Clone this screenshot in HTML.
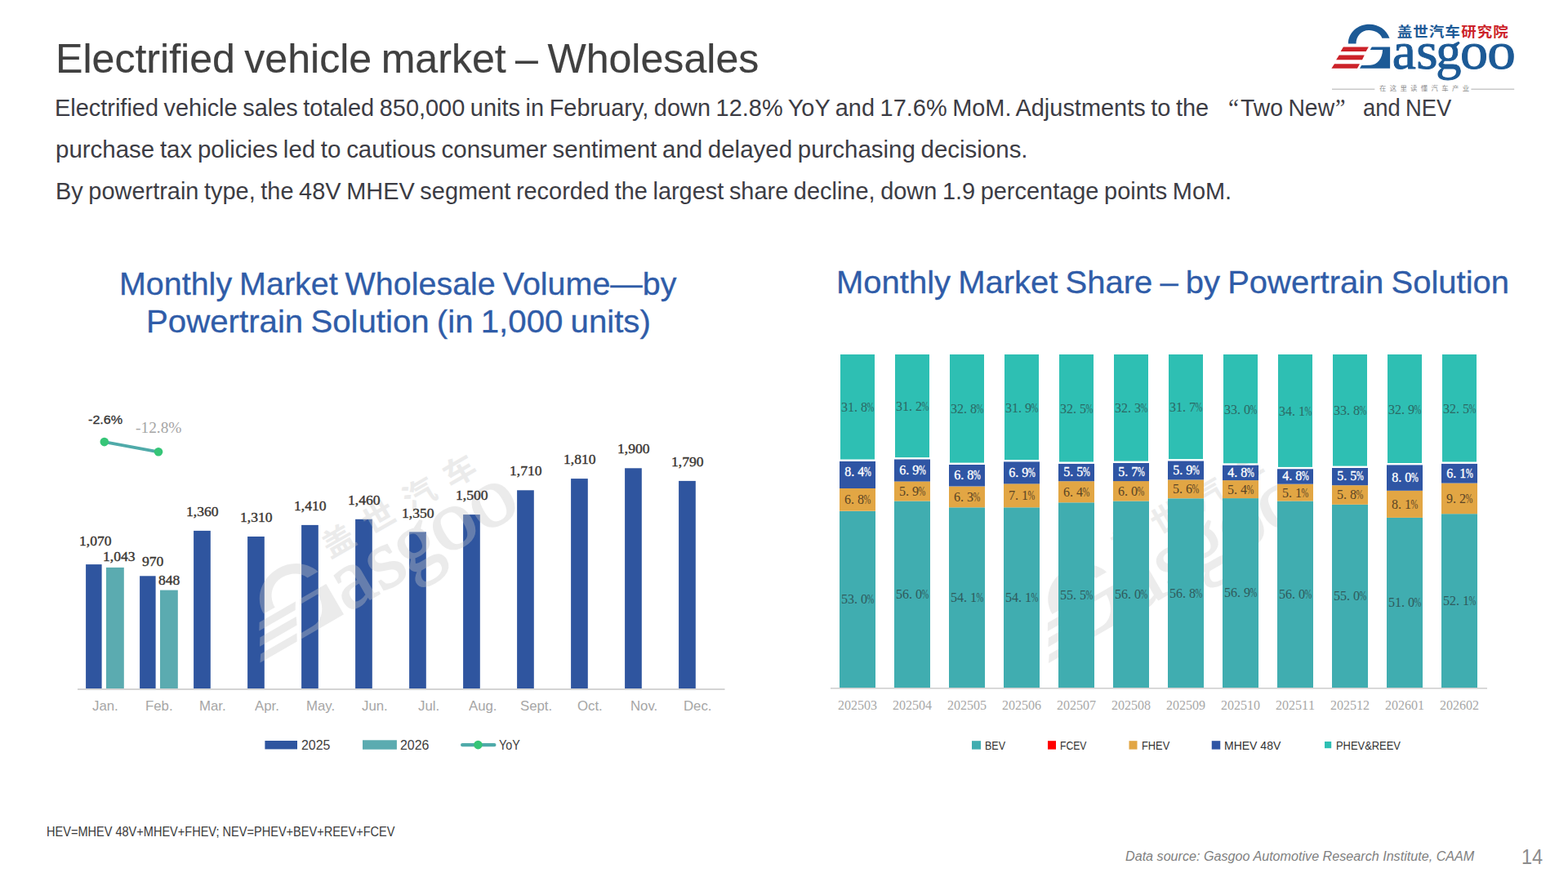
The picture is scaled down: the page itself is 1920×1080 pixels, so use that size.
<!DOCTYPE html>
<html><head><meta charset="utf-8"><title>Electrified vehicle market – Wholesales</title>
<style>
html,body{margin:0;padding:0;background:#fff}
body{width:1920px;height:1080px;position:relative;overflow:hidden;font-family:"Liberation Sans",sans-serif}
.t{position:absolute;white-space:nowrap;transform-origin:0 0;line-height:1}
svg{position:absolute;left:0;top:0}
</style></head><body>
<svg width="1920" height="1080" viewBox="0 0 1920 1080">
<defs>
<g id="lgG"><path d="M1650.9,53.6C1650.9,40 1662.3,29.8 1676.8,29.8C1688.2,29.8 1697.8,36.4 1701.5,46.7L1692.4,46.7C1690,40.6 1683.4,37 1676.2,37C1667.1,37 1660.5,44.3 1660.5,53.6Z"/><path d="M1679.8,57.5L1702.1,57.5L1702.1,83.7L1665,83.7L1667.1,79.9L1678,79.7C1686.4,79.7 1693,71.4 1693,61.1L1677.7,61.1Z"/><g font-family="Liberation Serif,serif" font-size="63" stroke="currentColor" stroke-width="1"><text transform="translate(1704.75,83.7) scale(1.0393,1)">a</text><text transform="translate(1734.19,83.7) scale(1.0739,1)">s</text><text transform="translate(1758.15,83.7) scale(0.9914,1)">g</text><text transform="translate(1787.97,83.7) scale(1.0812,1)">o</text><text transform="translate(1821.24,83.7) scale(1.0993,1)">o</text></g></g>
<g id="lgA"><use href="#lgG"/><text transform="translate(1710.86,45.26) scale(1,0.909)" x="0 19.49 38.99 58.48" y="0" font-family="'Liberation Sans','Noto Sans CJK SC',sans-serif" font-size="18.6" font-weight="bold">盖世汽车</text></g>
<g id="lgW"><use href="#lgG"/><use href="#lgB"/><text transform="translate(1713.92,42.74) scale(1,0.952)" x="0 34.6 69.2 103.8" y="0" font-family="'Liberation Sans','Noto Sans CJK SC',sans-serif" font-size="24.15" font-weight="bold">盖世汽车</text></g>
<path id="lgB" d="M1644.9,57.5H1675.9L1672.6,62.9H1641.6ZM1639.75,67.4H1670.75L1668,73.2H1636.1ZM1634,78.3H1665L1662,83.7H1630.4Z"/>
</defs>
<g id="logo"><g color="#1c5a96" fill="currentColor"><use href="#lgA"/></g><use href="#lgB" fill="#cc2229"/><g fill="#cc2229"><text transform="translate(1789.30,45.15) scale(1,0.909)" x="0 19.43 38.85" y="0" font-family="'Liberation Sans','Noto Sans CJK SC',sans-serif" font-size="18.47" font-weight="bold">研究院</text></g>
<g fill="#8c8c8c"><text transform="translate(1688.98,110.97)" x="0 12.72 25.44 38.15 50.87 63.59 76.30 89.02 101.74" y="0" font-family="'Liberation Sans','Noto Sans CJK SC',sans-serif" font-size="8.36">在这里读懂汽车产业</text></g>
<path d="M1631,109.3H1683.3M1801.4,109.3H1854.2" stroke="#c9c9c9" stroke-width="1.4"/></g>

<rect x="95" y="843.0" width="792.5" height="2" fill="#d4d4d4"/>
<rect x="105.1" y="691.1" width="19.5" height="151.9" fill="#2f559f"/>
<rect x="171.1" y="705.3" width="19.5" height="137.7" fill="#2f559f"/>
<rect x="237.1" y="649.9" width="20.7" height="193.1" fill="#2f559f"/>
<rect x="303.1" y="657.0" width="20.7" height="186.0" fill="#2f559f"/>
<rect x="369.1" y="642.9" width="20.7" height="200.1" fill="#2f559f"/>
<rect x="435.1" y="635.8" width="20.7" height="207.2" fill="#2f559f"/>
<rect x="501.1" y="651.4" width="20.7" height="191.6" fill="#2f559f"/>
<rect x="567.1" y="630.1" width="20.7" height="212.9" fill="#2f559f"/>
<rect x="633.1" y="600.3" width="20.7" height="242.7" fill="#2f559f"/>
<rect x="699.1" y="586.1" width="20.7" height="256.9" fill="#2f559f"/>
<rect x="765.1" y="573.3" width="20.7" height="269.7" fill="#2f559f"/>
<rect x="831.1" y="588.9" width="20.7" height="254.1" fill="#2f559f"/>
<rect x="130.0" y="694.9" width="21.8" height="148.1" fill="#5babb0"/>
<rect x="196.0" y="722.6" width="21.8" height="120.4" fill="#5babb0"/>
<line x1="127.8" y1="541.1" x2="194" y2="553.3" stroke="#4faaa9" stroke-width="3.9"/>
<circle cx="127.8" cy="541.1" r="5.3" fill="#36c577"/><circle cx="194" cy="553.3" r="5.3" fill="#36c577"/>
<g transform="translate(318.5,811.5) rotate(-30) scale(1.65) translate(-1630.4,-83.7)" fill="#c8c8c8" color="#c8c8c8" opacity=".36"><use href="#lgW"/></g>
<rect x="324.4" y="907" width="39.6" height="10.4" fill="#2f559f"/>
<rect x="444" y="906.3" width="41.9" height="11.4" fill="#5babb0"/>
<line x1="566.2" y1="912.1" x2="605.3" y2="912.1" stroke="#4faaa9" stroke-width="4.4" stroke-linecap="round"/><circle cx="585.4" cy="912.1" r="5.3" fill="#36c577"/>
<g transform="translate(1284,812) rotate(-30) scale(1.65) translate(-1630.4,-83.7)" fill="#ececec" color="#ececec"><use href="#lgW"/></g>
<rect x="1017" y="842.0" width="804" height="1.6" fill="#d0d0d0"/>
<rect x="1028.0" y="625.8" width="44" height="216.2" fill="#40adb0"/>
<rect x="1028.0" y="598.0" width="44" height="27.7" fill="#e2a644"/>
<rect x="1028.0" y="564.9" width="44" height="33.1" fill="#2f55a4"/>
<rect x="1029.0" y="434.0" width="42" height="128.5" fill="#2ebfb3"/>
<rect x="1095.0" y="613.5" width="44" height="228.5" fill="#40adb0"/>
<rect x="1095.0" y="589.4" width="44" height="24.1" fill="#e2a644"/>
<rect x="1095.0" y="562.5" width="44" height="27.0" fill="#2f55a4"/>
<rect x="1096.0" y="434.0" width="42" height="126.1" fill="#2ebfb3"/>
<rect x="1162.0" y="621.3" width="44" height="220.7" fill="#40adb0"/>
<rect x="1162.0" y="595.6" width="44" height="25.7" fill="#e2a644"/>
<rect x="1162.0" y="569.0" width="44" height="26.5" fill="#2f55a4"/>
<rect x="1163.0" y="434.0" width="42" height="132.6" fill="#2ebfb3"/>
<rect x="1229.0" y="621.3" width="44" height="220.7" fill="#40adb0"/>
<rect x="1229.0" y="592.3" width="44" height="29.0" fill="#e2a644"/>
<rect x="1229.0" y="565.4" width="44" height="27.0" fill="#2f55a4"/>
<rect x="1230.0" y="434.0" width="42" height="129.0" fill="#2ebfb3"/>
<rect x="1296.0" y="615.3" width="44" height="226.7" fill="#40adb0"/>
<rect x="1296.0" y="589.2" width="44" height="26.1" fill="#e2a644"/>
<rect x="1296.0" y="567.9" width="44" height="21.3" fill="#2f55a4"/>
<rect x="1297.0" y="434.0" width="42" height="131.5" fill="#2ebfb3"/>
<rect x="1363.0" y="613.5" width="44" height="228.5" fill="#40adb0"/>
<rect x="1363.0" y="589.0" width="44" height="24.5" fill="#e2a644"/>
<rect x="1363.0" y="567.0" width="44" height="22.1" fill="#2f55a4"/>
<rect x="1364.0" y="434.0" width="42" height="130.6" fill="#2ebfb3"/>
<rect x="1430.0" y="610.3" width="44" height="231.7" fill="#40adb0"/>
<rect x="1430.0" y="587.4" width="44" height="22.8" fill="#e2a644"/>
<rect x="1430.0" y="564.5" width="44" height="22.9" fill="#2f55a4"/>
<rect x="1431.0" y="434.0" width="42" height="128.1" fill="#2ebfb3"/>
<rect x="1497.0" y="610.1" width="44" height="231.9" fill="#40adb0"/>
<rect x="1497.0" y="588.1" width="44" height="22.0" fill="#e2a644"/>
<rect x="1497.0" y="569.7" width="44" height="18.4" fill="#2f55a4"/>
<rect x="1498.0" y="434.0" width="42" height="133.3" fill="#2ebfb3"/>
<rect x="1564.0" y="613.5" width="44" height="228.5" fill="#40adb0"/>
<rect x="1564.0" y="592.7" width="44" height="20.8" fill="#e2a644"/>
<rect x="1564.0" y="574.3" width="44" height="18.4" fill="#2f55a4"/>
<rect x="1565.0" y="434.0" width="42" height="137.9" fill="#2ebfb3"/>
<rect x="1631.0" y="617.8" width="44" height="224.2" fill="#40adb0"/>
<rect x="1631.0" y="594.2" width="44" height="23.6" fill="#e2a644"/>
<rect x="1631.0" y="573.0" width="44" height="21.2" fill="#2f55a4"/>
<rect x="1632.0" y="434.0" width="42" height="136.6" fill="#2ebfb3"/>
<rect x="1698.0" y="633.9" width="44" height="208.1" fill="#40adb0"/>
<rect x="1698.0" y="600.9" width="44" height="33.0" fill="#e2a644"/>
<rect x="1698.0" y="569.4" width="44" height="31.4" fill="#2f55a4"/>
<rect x="1699.0" y="434.0" width="42" height="133.0" fill="#2ebfb3"/>
<rect x="1765.0" y="629.2" width="44" height="212.8" fill="#40adb0"/>
<rect x="1765.0" y="591.6" width="44" height="37.6" fill="#e2a644"/>
<rect x="1765.0" y="567.9" width="44" height="23.7" fill="#2f55a4"/>
<rect x="1766.0" y="434.0" width="42" height="131.5" fill="#2ebfb3"/>
<g font-family="Liberation Serif,serif">
<g fill="#2f5a5c" font-size="16.0"><text x="1034.0 1042.0 1048.0 1058.0" y="739.3" text-anchor="middle">53.0</text><text transform="translate(1066.0,739.3) scale(.66,1)" text-anchor="middle">%</text></g>
<g fill="#5a4424" font-size="16.0"><text x="1038.0 1044.0 1054.0" y="617.3" text-anchor="middle">6.8</text><text transform="translate(1062.0,617.3) scale(.66,1)" text-anchor="middle">%</text></g>
<g fill="#ffffff" font-size="16.0" stroke="#ffffff" stroke-width=".32"><text x="1038.3 1044.3 1054.3" y="582.8" text-anchor="middle">8.4</text><text transform="translate(1062.3,582.8) scale(.66,1)" text-anchor="middle">%</text></g>
<g fill="#2b6863" font-size="16.0"><text x="1034.0 1042.0 1048.0 1058.0" y="504.3" text-anchor="middle">31.8</text><text transform="translate(1066.0,504.3) scale(.66,1)" text-anchor="middle">%</text></g>
<g fill="#a8a8a8" font-size="16.0"><text x="1030.0 1038.0 1046.0 1054.0 1062.0 1070.0" y="868.8" text-anchor="middle">202503</text></g>
<g fill="#2f5a5c" font-size="16.0"><text x="1101.0 1109.0 1115.0 1125.0" y="733.2" text-anchor="middle">56.0</text><text transform="translate(1133.0,733.2) scale(.66,1)" text-anchor="middle">%</text></g>
<g fill="#5a4424" font-size="16.0"><text x="1105.0 1111.0 1121.0" y="606.9" text-anchor="middle">5.9</text><text transform="translate(1129.0,606.9) scale(.66,1)" text-anchor="middle">%</text></g>
<g fill="#ffffff" font-size="16.0" stroke="#ffffff" stroke-width=".32"><text x="1105.3 1111.3 1121.3" y="580.8" text-anchor="middle">6.9</text><text transform="translate(1129.3,580.8) scale(.66,1)" text-anchor="middle">%</text></g>
<g fill="#2b6863" font-size="16.0"><text x="1101.0 1109.0 1115.0 1125.0" y="503.1" text-anchor="middle">31.2</text><text transform="translate(1133.0,503.1) scale(.66,1)" text-anchor="middle">%</text></g>
<g fill="#a8a8a8" font-size="16.0"><text x="1097.0 1105.0 1113.0 1121.0 1129.0 1137.0" y="868.8" text-anchor="middle">202504</text></g>
<g fill="#2f5a5c" font-size="16.0"><text x="1168.0 1176.0 1182.0 1192.0" y="737.0" text-anchor="middle">54.1</text><text transform="translate(1200.0,737.0) scale(.66,1)" text-anchor="middle">%</text></g>
<g fill="#5a4424" font-size="16.0"><text x="1172.0 1178.0 1188.0" y="613.8" text-anchor="middle">6.3</text><text transform="translate(1196.0,613.8) scale(.66,1)" text-anchor="middle">%</text></g>
<g fill="#ffffff" font-size="16.0" stroke="#ffffff" stroke-width=".32"><text x="1172.3 1178.3 1188.3" y="587.1" text-anchor="middle">6.8</text><text transform="translate(1196.3,587.1) scale(.66,1)" text-anchor="middle">%</text></g>
<g fill="#2b6863" font-size="16.0"><text x="1168.0 1176.0 1182.0 1192.0" y="506.3" text-anchor="middle">32.8</text><text transform="translate(1200.0,506.3) scale(.66,1)" text-anchor="middle">%</text></g>
<g fill="#a8a8a8" font-size="16.0"><text x="1164.0 1172.0 1180.0 1188.0 1196.0 1204.0" y="868.8" text-anchor="middle">202505</text></g>
<g fill="#2f5a5c" font-size="16.0"><text x="1235.0 1243.0 1249.0 1259.0" y="737.0" text-anchor="middle">54.1</text><text transform="translate(1267.0,737.0) scale(.66,1)" text-anchor="middle">%</text></g>
<g fill="#5a4424" font-size="16.0"><text x="1239.0 1245.0 1255.0" y="612.2" text-anchor="middle">7.1</text><text transform="translate(1263.0,612.2) scale(.66,1)" text-anchor="middle">%</text></g>
<g fill="#ffffff" font-size="16.0" stroke="#ffffff" stroke-width=".32"><text x="1239.3 1245.3 1255.3" y="583.6" text-anchor="middle">6.9</text><text transform="translate(1263.3,583.6) scale(.66,1)" text-anchor="middle">%</text></g>
<g fill="#2b6863" font-size="16.0"><text x="1235.0 1243.0 1249.0 1259.0" y="504.5" text-anchor="middle">31.9</text><text transform="translate(1267.0,504.5) scale(.66,1)" text-anchor="middle">%</text></g>
<g fill="#a8a8a8" font-size="16.0"><text x="1231.0 1239.0 1247.0 1255.0 1263.0 1271.0" y="868.8" text-anchor="middle">202506</text></g>
<g fill="#2f5a5c" font-size="16.0"><text x="1302.0 1310.0 1316.0 1326.0" y="734.1" text-anchor="middle">55.5</text><text transform="translate(1334.0,734.1) scale(.66,1)" text-anchor="middle">%</text></g>
<g fill="#5a4424" font-size="16.0"><text x="1306.0 1312.0 1322.0" y="607.7" text-anchor="middle">6.4</text><text transform="translate(1330.0,607.7) scale(.66,1)" text-anchor="middle">%</text></g>
<g fill="#ffffff" font-size="16.0" stroke="#ffffff" stroke-width=".32"><text x="1306.3 1312.3 1322.3" y="583.4" text-anchor="middle">5.5</text><text transform="translate(1330.3,583.4) scale(.66,1)" text-anchor="middle">%</text></g>
<g fill="#2b6863" font-size="16.0"><text x="1302.0 1310.0 1316.0 1326.0" y="505.8" text-anchor="middle">32.5</text><text transform="translate(1334.0,505.8) scale(.66,1)" text-anchor="middle">%</text></g>
<g fill="#a8a8a8" font-size="16.0"><text x="1298.0 1306.0 1314.0 1322.0 1330.0 1338.0" y="868.8" text-anchor="middle">202507</text></g>
<g fill="#2f5a5c" font-size="16.0"><text x="1369.0 1377.0 1383.0 1393.0" y="733.2" text-anchor="middle">56.0</text><text transform="translate(1401.0,733.2) scale(.66,1)" text-anchor="middle">%</text></g>
<g fill="#5a4424" font-size="16.0"><text x="1373.0 1379.0 1389.0" y="606.7" text-anchor="middle">6.0</text><text transform="translate(1397.0,606.7) scale(.66,1)" text-anchor="middle">%</text></g>
<g fill="#ffffff" font-size="16.0" stroke="#ffffff" stroke-width=".32"><text x="1373.3 1379.3 1389.3" y="582.8" text-anchor="middle">5.7</text><text transform="translate(1397.3,582.8) scale(.66,1)" text-anchor="middle">%</text></g>
<g fill="#2b6863" font-size="16.0"><text x="1369.0 1377.0 1383.0 1393.0" y="505.3" text-anchor="middle">32.3</text><text transform="translate(1401.0,505.3) scale(.66,1)" text-anchor="middle">%</text></g>
<g fill="#a8a8a8" font-size="16.0"><text x="1365.0 1373.0 1381.0 1389.0 1397.0 1405.0" y="868.8" text-anchor="middle">202508</text></g>
<g fill="#2f5a5c" font-size="16.0"><text x="1436.0 1444.0 1450.0 1460.0" y="731.5" text-anchor="middle">56.8</text><text transform="translate(1468.0,731.5) scale(.66,1)" text-anchor="middle">%</text></g>
<g fill="#5a4424" font-size="16.0"><text x="1440.0 1446.0 1456.0" y="604.2" text-anchor="middle">5.6</text><text transform="translate(1464.0,604.2) scale(.66,1)" text-anchor="middle">%</text></g>
<g fill="#ffffff" font-size="16.0" stroke="#ffffff" stroke-width=".32"><text x="1440.3 1446.3 1456.3" y="580.8" text-anchor="middle">5.9</text><text transform="translate(1464.3,580.8) scale(.66,1)" text-anchor="middle">%</text></g>
<g fill="#2b6863" font-size="16.0"><text x="1436.0 1444.0 1450.0 1460.0" y="504.1" text-anchor="middle">31.7</text><text transform="translate(1468.0,504.1) scale(.66,1)" text-anchor="middle">%</text></g>
<g fill="#a8a8a8" font-size="16.0"><text x="1432.0 1440.0 1448.0 1456.0 1464.0 1472.0" y="868.8" text-anchor="middle">202509</text></g>
<g fill="#2f5a5c" font-size="16.0"><text x="1503.0 1511.0 1517.0 1527.0" y="731.4" text-anchor="middle">56.9</text><text transform="translate(1535.0,731.4) scale(.66,1)" text-anchor="middle">%</text></g>
<g fill="#5a4424" font-size="16.0"><text x="1507.0 1513.0 1523.0" y="604.5" text-anchor="middle">5.4</text><text transform="translate(1531.0,604.5) scale(.66,1)" text-anchor="middle">%</text></g>
<g fill="#ffffff" font-size="16.0" stroke="#ffffff" stroke-width=".32"><text x="1507.3 1513.3 1523.3" y="583.7" text-anchor="middle">4.8</text><text transform="translate(1531.3,583.7) scale(.66,1)" text-anchor="middle">%</text></g>
<g fill="#2b6863" font-size="16.0"><text x="1503.0 1511.0 1517.0 1527.0" y="506.7" text-anchor="middle">33.0</text><text transform="translate(1535.0,506.7) scale(.66,1)" text-anchor="middle">%</text></g>
<g fill="#a8a8a8" font-size="16.0"><text x="1499.0 1507.0 1515.0 1523.0 1531.0 1539.0" y="868.8" text-anchor="middle">202510</text></g>
<g fill="#2f5a5c" font-size="16.0"><text x="1570.0 1578.0 1584.0 1594.0" y="733.2" text-anchor="middle">56.0</text><text transform="translate(1602.0,733.2) scale(.66,1)" text-anchor="middle">%</text></g>
<g fill="#5a4424" font-size="16.0"><text x="1574.0 1580.0 1590.0" y="608.5" text-anchor="middle">5.1</text><text transform="translate(1598.0,608.5) scale(.66,1)" text-anchor="middle">%</text></g>
<g fill="#ffffff" font-size="16.0" stroke="#ffffff" stroke-width=".32"><text x="1574.3 1580.3 1590.3" y="588.3" text-anchor="middle">4.8</text><text transform="translate(1598.3,588.3) scale(.66,1)" text-anchor="middle">%</text></g>
<g fill="#2b6863" font-size="16.0"><text x="1570.0 1578.0 1584.0 1594.0" y="509.0" text-anchor="middle">34.1</text><text transform="translate(1602.0,509.0) scale(.66,1)" text-anchor="middle">%</text></g>
<g fill="#a8a8a8" font-size="16.0"><text x="1566.0 1574.0 1582.0 1590.0 1598.0 1606.0" y="868.8" text-anchor="middle">202511</text></g>
<g fill="#2f5a5c" font-size="16.0"><text x="1637.0 1645.0 1651.0 1661.0" y="735.3" text-anchor="middle">55.0</text><text transform="translate(1669.0,735.3) scale(.66,1)" text-anchor="middle">%</text></g>
<g fill="#5a4424" font-size="16.0"><text x="1641.0 1647.0 1657.0" y="611.4" text-anchor="middle">5.8</text><text transform="translate(1665.0,611.4) scale(.66,1)" text-anchor="middle">%</text></g>
<g fill="#ffffff" font-size="16.0" stroke="#ffffff" stroke-width=".32"><text x="1641.3 1647.3 1657.3" y="588.4" text-anchor="middle">5.5</text><text transform="translate(1665.3,588.4) scale(.66,1)" text-anchor="middle">%</text></g>
<g fill="#2b6863" font-size="16.0"><text x="1637.0 1645.0 1651.0 1661.0" y="508.3" text-anchor="middle">33.8</text><text transform="translate(1669.0,508.3) scale(.66,1)" text-anchor="middle">%</text></g>
<g fill="#a8a8a8" font-size="16.0"><text x="1633.0 1641.0 1649.0 1657.0 1665.0 1673.0" y="868.8" text-anchor="middle">202512</text></g>
<g fill="#2f5a5c" font-size="16.0"><text x="1704.0 1712.0 1718.0 1728.0" y="743.4" text-anchor="middle">51.0</text><text transform="translate(1736.0,743.4) scale(.66,1)" text-anchor="middle">%</text></g>
<g fill="#5a4424" font-size="16.0"><text x="1708.0 1714.0 1724.0" y="622.8" text-anchor="middle">8.1</text><text transform="translate(1732.0,622.8) scale(.66,1)" text-anchor="middle">%</text></g>
<g fill="#ffffff" font-size="16.0" stroke="#ffffff" stroke-width=".32"><text x="1708.3 1714.3 1724.3" y="590.0" text-anchor="middle">8.0</text><text transform="translate(1732.3,590.0) scale(.66,1)" text-anchor="middle">%</text></g>
<g fill="#2b6863" font-size="16.0"><text x="1704.0 1712.0 1718.0 1728.0" y="506.5" text-anchor="middle">32.9</text><text transform="translate(1736.0,506.5) scale(.66,1)" text-anchor="middle">%</text></g>
<g fill="#a8a8a8" font-size="16.0"><text x="1700.0 1708.0 1716.0 1724.0 1732.0 1740.0" y="868.8" text-anchor="middle">202601</text></g>
<g fill="#2f5a5c" font-size="16.0"><text x="1771.0 1779.0 1785.0 1795.0" y="741.0" text-anchor="middle">52.1</text><text transform="translate(1803.0,741.0) scale(.66,1)" text-anchor="middle">%</text></g>
<g fill="#5a4424" font-size="16.0"><text x="1775.0 1781.0 1791.0" y="615.8" text-anchor="middle">9.2</text><text transform="translate(1799.0,615.8) scale(.66,1)" text-anchor="middle">%</text></g>
<g fill="#ffffff" font-size="16.0" stroke="#ffffff" stroke-width=".32"><text x="1775.3 1781.3 1791.3" y="584.6" text-anchor="middle">6.1</text><text transform="translate(1799.3,584.6) scale(.66,1)" text-anchor="middle">%</text></g>
<g fill="#2b6863" font-size="16.0"><text x="1771.0 1779.0 1785.0 1795.0" y="505.8" text-anchor="middle">32.5</text><text transform="translate(1803.0,505.8) scale(.66,1)" text-anchor="middle">%</text></g>
<g fill="#a8a8a8" font-size="16.0"><text x="1767.0 1775.0 1783.0 1791.0 1799.0 1807.0" y="868.8" text-anchor="middle">202602</text></g>
</g>
<rect x="1190" y="907.2" width="11" height="10.4" fill="#40adb0"/>
<rect x="1283" y="907.2" width="10" height="10.4" fill="#ff0000"/>
<rect x="1382.5" y="907.2" width="10" height="10.4" fill="#e2a644"/>
<rect x="1483.75" y="907.2" width="10.5" height="10.4" fill="#2f55a4"/>
<rect x="1622" y="908" width="8.2" height="8.2" fill="#2ebfb3"/>
</svg>
<div class="t" style="left:68.09px;top:46.93px;font-size:50.87px;color:#404040;transform:scaleX(0.9848);word-spacing:-0.05em;-webkit-text-stroke:0.2px #404040;">Electrified vehicle market – Wholesales</div>
<div class="t" style="left:67.14px;top:117.45px;font-size:29.94px;color:#3c3c44;transform:scaleX(0.9661);word-spacing:-0.05em;">Electrified vehicle sales totaled 850,000 units in February, down 12.8% YoY and 17.6% MoM. Adjustments to the</div>
<div class="t" style="left:1504.13px;top:117.34px;font-size:31.00px;color:#3c3c44;transform:scaleX(0.9425);font-family:'Liberation Serif',serif;">“</div>
<div class="t" style="left:1518.56px;top:117.45px;font-size:29.94px;color:#3c3c44;transform:scaleX(0.9463);word-spacing:-0.05em;">Two New</div>
<div class="t" style="left:1634.62px;top:117.34px;font-size:31.00px;color:#3c3c44;transform:scaleX(0.9032);font-family:'Liberation Serif',serif;">”</div>
<div class="t" style="left:1669.14px;top:117.45px;font-size:29.94px;color:#3c3c44;transform:scaleX(0.9145);word-spacing:-0.05em;">and NEV</div>
<div class="t" style="left:67.96px;top:167.95px;font-size:29.94px;color:#3c3c44;transform:scaleX(0.9839);word-spacing:-0.05em;">purchase tax policies led to cautious consumer sentiment and delayed purchasing decisions.</div>
<div class="t" style="left:67.74px;top:218.65px;font-size:29.94px;color:#3c3c44;transform:scaleX(0.9663);word-spacing:-0.05em;">By powertrain type, the 48V MHEV segment recorded the largest share decline, down 1.9 percentage points MoM.</div>
<div class="t" style="left:145.72px;top:327.87px;font-size:39.24px;color:#2f5ca8;transform:scaleX(1.0053);word-spacing:-0.05em;-webkit-text-stroke:0.3px #2f5ca8;">Monthly Market Wholesale Volume—by</div>
<div class="t" style="left:178.76px;top:373.77px;font-size:39.24px;color:#2f5ca8;transform:scaleX(1.0250);word-spacing:-0.05em;-webkit-text-stroke:0.3px #2f5ca8;">Powertrain Solution (in 1,000 units)</div>
<div class="t" style="left:1023.87px;top:327.02px;font-size:38.95px;color:#2f5ca8;transform:scaleX(1.0274);word-spacing:-0.05em;-webkit-text-stroke:0.3px #2f5ca8;">Monthly Market Share – by Powertrain Solution</div>
<div class="t" style="left:57.36px;top:1009.84px;font-size:16.42px;color:#3a3a3a;transform:scaleX(0.8862);">HEV=MHEV 48V+MHEV+FHEV; NEV=PHEV+BEV+REEV+FCEV</div>
<div class="t" style="left:1377.75px;top:1040.59px;font-size:15.84px;color:#7f7f7f;transform:scaleX(1.0196);font-style:italic;">Data source: Gasgoo Automotive Research Institute, CAAM</div>
<div class="t" style="left:1862.53px;top:1036.47px;font-size:26.31px;color:#8c8c8c;transform:scaleX(0.8938);">14</div>
<div class="t" style="left:96.78px;top:655.25px;font-size:16.30px;color:#3a3632;transform:scaleX(1.0800);font-family:'Liberation Serif',serif;-webkit-text-stroke:.38px #3a3632;">1,070</div>
<div class="t" style="left:125.98px;top:674.15px;font-size:16.30px;color:#3a3632;transform:scaleX(1.0800);font-family:'Liberation Serif',serif;-webkit-text-stroke:.38px #3a3632;">1,043</div>
<div class="t" style="left:173.50px;top:679.65px;font-size:16.30px;color:#3a3632;transform:scaleX(1.0800);font-family:'Liberation Serif',serif;-webkit-text-stroke:.38px #3a3632;">970</div>
<div class="t" style="left:193.50px;top:703.05px;font-size:16.30px;color:#3a3632;transform:scaleX(1.0800);font-family:'Liberation Serif',serif;-webkit-text-stroke:.38px #3a3632;">848</div>
<div class="t" style="left:227.83px;top:619.10px;font-size:16.30px;color:#3a3632;transform:scaleX(1.0800);font-family:'Liberation Serif',serif;-webkit-text-stroke:.38px #3a3632;">1,360</div>
<div class="t" style="left:293.83px;top:626.20px;font-size:16.30px;color:#3a3632;transform:scaleX(1.0800);font-family:'Liberation Serif',serif;-webkit-text-stroke:.38px #3a3632;">1,310</div>
<div class="t" style="left:359.83px;top:612.00px;font-size:16.30px;color:#3a3632;transform:scaleX(1.0800);font-family:'Liberation Serif',serif;-webkit-text-stroke:.38px #3a3632;">1,410</div>
<div class="t" style="left:425.83px;top:604.90px;font-size:16.30px;color:#3a3632;transform:scaleX(1.0800);font-family:'Liberation Serif',serif;-webkit-text-stroke:.38px #3a3632;">1,460</div>
<div class="t" style="left:491.83px;top:620.52px;font-size:16.30px;color:#3a3632;transform:scaleX(1.0800);font-family:'Liberation Serif',serif;-webkit-text-stroke:.38px #3a3632;">1,350</div>
<div class="t" style="left:557.83px;top:599.23px;font-size:16.30px;color:#3a3632;transform:scaleX(1.0800);font-family:'Liberation Serif',serif;-webkit-text-stroke:.38px #3a3632;">1,500</div>
<div class="t" style="left:623.83px;top:569.42px;font-size:16.30px;color:#3a3632;transform:scaleX(1.0800);font-family:'Liberation Serif',serif;-webkit-text-stroke:.38px #3a3632;">1,710</div>
<div class="t" style="left:689.83px;top:555.22px;font-size:16.30px;color:#3a3632;transform:scaleX(1.0800);font-family:'Liberation Serif',serif;-webkit-text-stroke:.38px #3a3632;">1,810</div>
<div class="t" style="left:755.83px;top:542.45px;font-size:16.30px;color:#3a3632;transform:scaleX(1.0800);font-family:'Liberation Serif',serif;-webkit-text-stroke:.38px #3a3632;">1,900</div>
<div class="t" style="left:821.83px;top:558.06px;font-size:16.30px;color:#3a3632;transform:scaleX(1.0800);font-family:'Liberation Serif',serif;-webkit-text-stroke:.38px #3a3632;">1,790</div>
<div class="t" style="left:107.57px;top:505.86px;font-size:15.40px;color:#333;transform:scaleX(1.0500);-webkit-text-stroke:.3px #333;">-2.6%</div>
<div class="t" style="left:166.01px;top:514.68px;font-size:18.30px;color:#a6a6a6;transform:scaleX(1.0600);font-family:'Liberation Serif',serif;">-12.8%</div>
<div class="t" style="left:113.05px;top:856.71px;font-size:15.70px;color:#a6a6a6;transform:scaleX(1.0700);">Jan.</div>
<div class="t" style="left:177.60px;top:856.71px;font-size:15.70px;color:#a6a6a6;transform:scaleX(1.0700);">Feb.</div>
<div class="t" style="left:244.07px;top:856.71px;font-size:15.70px;color:#a6a6a6;transform:scaleX(1.0700);">Mar.</div>
<div class="t" style="left:312.12px;top:856.71px;font-size:15.70px;color:#a6a6a6;transform:scaleX(1.0700);">Apr.</div>
<div class="t" style="left:374.82px;top:856.71px;font-size:15.70px;color:#a6a6a6;transform:scaleX(1.0700);">May.</div>
<div class="t" style="left:443.05px;top:856.71px;font-size:15.70px;color:#a6a6a6;transform:scaleX(1.0700);">Jun.</div>
<div class="t" style="left:511.86px;top:856.71px;font-size:15.70px;color:#a6a6a6;transform:scaleX(1.0700);">Jul.</div>
<div class="t" style="left:573.78px;top:856.71px;font-size:15.70px;color:#a6a6a6;transform:scaleX(1.0700);">Aug.</div>
<div class="t" style="left:637.18px;top:856.71px;font-size:15.70px;color:#a6a6a6;transform:scaleX(1.0700);">Sept.</div>
<div class="t" style="left:707.26px;top:856.71px;font-size:15.70px;color:#a6a6a6;transform:scaleX(1.0700);">Oct.</div>
<div class="t" style="left:771.76px;top:856.71px;font-size:15.70px;color:#a6a6a6;transform:scaleX(1.0700);">Nov.</div>
<div class="t" style="left:837.13px;top:856.71px;font-size:15.70px;color:#a6a6a6;transform:scaleX(1.0700);">Dec.</div>
<div class="t" style="left:369.45px;top:903.89px;font-size:16.42px;color:#404040;transform:scaleX(0.9686);">2025</div>
<div class="t" style="left:490.25px;top:903.89px;font-size:16.42px;color:#404040;transform:scaleX(0.9686);">2026</div>
<div class="t" style="left:611.28px;top:903.89px;font-size:16.42px;color:#404040;transform:scaleX(0.8727);">YoY</div>
<div class="t" style="left:1205.92px;top:905.81px;font-size:14.10px;color:#333;transform:scaleX(0.8867);">BEV</div>
<div class="t" style="left:1298.30px;top:905.81px;font-size:14.10px;color:#333;transform:scaleX(0.8614);">FCEV</div>
<div class="t" style="left:1398.25px;top:905.81px;font-size:14.10px;color:#333;transform:scaleX(0.9092);">FHEV</div>
<div class="t" style="left:1499.41px;top:905.81px;font-size:14.10px;color:#333;transform:scaleX(0.9934);">MHEV 48V</div>
<div class="t" style="left:1635.99px;top:905.81px;font-size:14.10px;color:#333;transform:scaleX(0.9159);">PHEV&amp;REEV</div>
</body></html>
